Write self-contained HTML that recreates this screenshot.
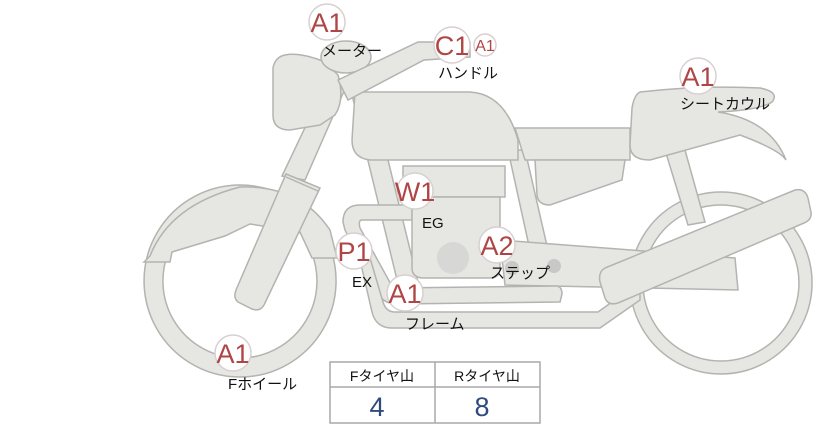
<!DOCTYPE html>
<html><head><meta charset="utf-8"><style>
html,body{margin:0;padding:0;background:#fff;width:822px;height:425px;overflow:hidden}
svg{display:block}
.p{fill:#e6e6e3;stroke:#b3b3b0;stroke-width:1.5}
.b{fill:#fff;stroke:#d8d0d0;stroke-width:1.5}
.bt{font-family:"Liberation Sans","DejaVu Sans",sans-serif;fill:#b04546;font-size:27px;text-anchor:middle}
.l{font-family:"Liberation Sans","Noto Sans CJK JP",sans-serif;fill:#111;font-size:15px}
</style></head><body>
<svg width="822" height="425" viewBox="0 0 822 425" xmlns="http://www.w3.org/2000/svg">
<path class="p" fill-rule="evenodd" d="M721,192a91,91 0 1,0 0.1,0zM721,205a78,78 0 1,1 -0.1,0z"/>
<path class="p" fill-rule="evenodd" d="M240,185a96,96 0 1,0 0.1,0zM240,204a77,77 0 1,1 -0.1,0z"/>
<path class="p" d="M144,262 L150,256 Q170,205 240,187 Q300,185 330,230 L337,258 L312,258 L300,232 L250,224 L225,236 L172,252 L170,262 Z"/>
<path class="p" d="M352,95 L372,95 L420,290 L400,292 Z"/>
<path class="p" d="M508,150 L525,150 L556,285 L538,287 Z"/>
<path class="p" d="M665,150 L685,150 L705,222 L688,225 Z"/>
<path class="p" d="M500,240 L735,258 L738,290 L505,285 Z"/>
<path class="p" d="M343,222 Q343,205 360,205 L412,205 L412,220 L362,220 Q358,220 360,228 L393,288 L556,286 Q562,286 562,294 L560,302 L398,304 Q385,304 380,296 L345,230 Z"/>
<path class="p" d="M360,260 L372,312 Q376,328 392,328 L600,328 L640,300 L640,282 L598,312 L395,312 Q386,312 383,302 L370,258 Z"/>
<path class="p" d="M605,268 L795,190 Q805,188 808,198 L811,212 Q812,220 804,223 L618,303 Q608,306 605,298 L600,282 Q598,272 605,268Z"/>
<path class="p" d="M330,75 L348,82 L305,180 L282,176 Z"/>
<path class="p" d="M286,174 L320,188 L264,305 Q260,312 252,309 L238,302 Q233,298 236,290 Z"/>
<path d="M286,177 L318,191" stroke="#b3b3b0" stroke-width="1.5"/>
<rect class="p" x="403" y="166" width="102" height="31"/>
<path class="p" d="M412,197 L500,197 L500,268 Q500,278 490,278 L424,278 Q412,278 412,268 Z"/>
<circle cx="453" cy="258" r="16" fill="#d7d7d5"/>
<circle cx="512" cy="268" r="7" fill="#c8c8c6"/>
<circle cx="554" cy="266" r="7" fill="#c8c8c6"/>
<path class="p" d="M355,92 L470,92 Q505,94 518,140 L518,160 L370,160 Q352,158 352,140 Z"/>
<path class="p" d="M515,128 L630,128 L630,160 L525,160 Z"/>
<path class="p" d="M535,160 L625,160 L622,180 L550,205 Q538,205 537,195 Z"/>
<path class="p" d="M640,92 Q700,85 760,88 Q780,92 772,102 Q760,110 718,112 Q770,120 786,160 Q780,150 740,135 L650,160 Q630,160 630,145 L632,108 Q634,95 640,92Z"/>
<path class="p" d="M285,55 Q300,52 325,62 L338,75 Q345,100 335,115 L320,125 L290,130 Q273,130 273,115 L273,68 Q275,57 285,55Z"/>
<ellipse class="p" cx="346" cy="57" rx="25" ry="16"/>
<path class="p" d="M338,80 L418,42 L470,42 L470,57 L424,60 L348,100 Z"/>
<rect x="330" y="362" width="210" height="61" fill="#fff" stroke="#a9a9ab" stroke-width="1.5"/>
<line x1="330" y1="387" x2="540" y2="387" stroke="#a9a9ab" stroke-width="1.5"/>
<line x1="435" y1="362" x2="435" y2="423" stroke="#a9a9ab" stroke-width="1.5"/>
<text class="l" x="382" y="381" text-anchor="middle" style="font-size:14px">Fタイヤ山</text>
<text class="l" x="487" y="381" text-anchor="middle" style="font-size:14px">Rタイヤ山</text>
<text x="377" y="416" text-anchor="middle" font-family="Liberation Sans,sans-serif" font-size="27" fill="#2f4a7c">4</text>
<text x="482" y="416" text-anchor="middle" font-family="Liberation Sans,sans-serif" font-size="27" fill="#2f4a7c">8</text>
<g>
<circle class="b" cx="327" cy="22" r="18"/><text class="bt" x="327" y="32">A1</text>
<circle class="b" cx="452" cy="45" r="18"/><text class="bt" x="452" y="55">C1</text>
<circle class="b" cx="485" cy="45" r="11"/><text class="bt" x="485" y="51" style="font-size:16px">A1</text>
<circle class="b" cx="698" cy="76" r="18"/><text class="bt" x="698" y="86">A1</text>
<circle class="b" cx="415" cy="191" r="18"/><text class="bt" x="415" y="201">W1</text>
<circle class="b" cx="497" cy="245" r="18"/><text class="bt" x="497" y="255">A2</text>
<circle class="b" cx="354" cy="251" r="18"/><text class="bt" x="354" y="261">P1</text>
<circle class="b" cx="405" cy="293" r="18"/><text class="bt" x="405" y="303">A1</text>
<circle class="b" cx="233" cy="353" r="18"/><text class="bt" x="233" y="363">A1</text>
</g>
<text class="l" x="322" y="56">メーター</text>
<text class="l" x="438" y="78">ハンドル</text>
<text class="l" x="680" y="109">シートカウル</text>
<text class="l" x="422" y="228">EG</text>
<text class="l" x="352" y="287">EX</text>
<text class="l" x="490" y="278">ステップ</text>
<text class="l" x="405" y="329">フレーム</text>
<text class="l" x="228" y="389">Fホイール</text>
</svg>
</body></html>
